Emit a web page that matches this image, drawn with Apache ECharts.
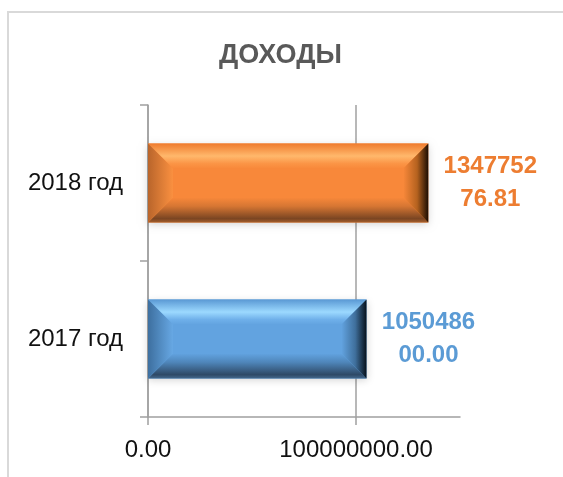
<!DOCTYPE html>
<html>
<head>
<meta charset="utf-8">
<script src="https://cdn.jsdelivr.net/npm/echarts@6/dist/echarts.min.js"></script>
<style>
  html, body { margin: 0; padding: 0; background: #ffffff; overflow: hidden; }
  #frame { position: absolute; left: 7px; top: 11px; width: 700px; height: 700px; border: 2px solid #d9d9d9; box-sizing: border-box; }
  #chart { position: absolute; left: 0; top: 0; width: 563px; height: 477px; }
</style>
</head>
<body>
<div id="frame"></div>
<div id="chart"></div>
<script>
const titleText = 'ДОХОДЫ';
const categories = ['2017 год', '2018 год'];
const values = [105048600.00, 134775276.81];
const tickValues = [0, 100000000];
const axisMax = 150000000;

const palettes = [
  { label: '#5B9BD5', base: '#62A3E0', top: '#5A99D4', hi: '#9CD9FF', mid: '#6FB0EA', bot1: '#4F86BA', bot2: '#2E4966', botEdge: '#44698E', left: '#3D6F9F', leftIn: '#67A8E4', right1: '#3F6F9C', right2: '#06101A' },
  { label: '#ED7D31', base: '#F8883A', top: '#EF7B2D', hi: '#FFB86C', mid: '#FB9546', bot1: '#D67633', bot2: '#7A4522', botEdge: '#A55E2B', left: '#B9652B', leftIn: '#FA9040', right1: '#B5621F', right2: '#1C0D02' }
];

const chart = echarts.init(document.getElementById('chart'), null, { renderer: 'canvas' });

function renderItem(params, api) {
  const i = params.dataIndex;
  const p = palettes[i];
  const start = api.coord([0, api.value(1)]);
  const end = api.coord([api.value(0), api.value(1)]);
  const h = api.size([0, 1])[1] * 0.506;
  const x = start[0];
  const y = start[1] - h / 2;
  const w = end[0] - start[0];
  const b = Math.min(25, w / 2, h / 2);
  const lg = (x2, y2, stops) => ({ type: 'linear', x: 0, y: 0, x2: x2, y2: y2, global: false,
    colorStops: stops.map(s => ({ offset: s[0], color: s[1] })) });
  const txt = values[i].toFixed(2);
  const line1 = txt.slice(0, 7);
  const line2 = txt.slice(7);
  return {
    type: 'group',
    children: [
      { type: 'rect', shape: { x: x, y: y, width: w, height: h },
        style: { fill: p.base, shadowBlur: 8, shadowColor: 'rgba(0,0,0,0.18)', shadowOffsetY: 2 } },
      { type: 'polygon', shape: { points: [[x, y], [x + w, y], [x + w - b, y + b], [x + b, y + b]] },
        style: { fill: lg(0, 1, [[0, p.top], [0.5, p.hi], [0.8, p.mid], [1, p.base]]) } },
      { type: 'polygon', shape: { points: [[x + b, y + h - b], [x + w - b, y + h - b], [x + w, y + h], [x, y + h]] },
        style: { fill: lg(0, 1, [[0, p.base], [0.35, p.bot1], [0.85, p.bot2], [1, p.botEdge]]) } },
      { type: 'polygon', shape: { points: [[x, y], [x + b, y + b], [x + b, y + h - b], [x, y + h]] },
        style: { fill: lg(1, 0, [[0, p.left], [1, p.leftIn]]) } },
      { type: 'polygon', shape: { points: [[x + w, y], [x + w - b, y + b], [x + w - b, y + h - b], [x + w, y + h]] },
        style: { fill: lg(1, 0, [[0, p.base], [0.55, p.right1], [1, p.right2]]) } },
      { type: 'text', x: end[0] + 15, y: start[1],
        style: {
          text: '{a|' + line1 + '}\n{a|' + line2 + '}',
          align: 'left', verticalAlign: 'middle',
          rich: { a: { width: 94, align: 'center', fontSize: 24, fontWeight: 'bold', lineHeight: 33,
            fontFamily: 'Liberation Sans, Arial, sans-serif', fill: p.label } }
        } }
    ]
  };
}

const option = {
  backgroundColor: 'transparent',
  animation: false,
  title: {
    text: titleText,
    left: 214,
    top: 37,
    textStyle: { fontSize: 27, fontWeight: 'bold', color: '#595959', fontFamily: 'Liberation Sans, Arial, sans-serif' }
  },
  grid: { left: 148, right: 103, top: 105, bottom: 60, containLabel: false },
  xAxis: {
    type: 'value',
    min: 0,
    max: axisMax,
    interval: 100000000,
    axisLine: { show: true, lineStyle: { color: '#a0a0a0', width: 1.5 } },
    axisTick: { show: true, length: 8, inside: false, customValues: tickValues, lineStyle: { color: '#a0a0a0', width: 1.5 } },
    axisLabel: {
      customValues: tickValues,
      formatter: v => v.toFixed(2),
      fontSize: 24, color: '#111', margin: 21,
      fontFamily: 'Liberation Sans, Arial, sans-serif'
    },
    splitLine: { show: true, lineStyle: { color: ['#a0a0a0', '#a0a0a0', 'rgba(0,0,0,0)'], width: 1.5 } }
  },
  yAxis: {
    type: 'category',
    data: categories,
    axisLine: { show: true, lineStyle: { color: '#a0a0a0', width: 1.5 } },
    axisTick: { show: true, length: 8, inside: false, lineStyle: { color: '#a0a0a0', width: 1.5 } },
    axisLabel: { fontSize: 24, color: '#111', margin: 25, fontFamily: 'Liberation Sans, Arial, sans-serif' },
    splitLine: { show: false }
  },
  series: [{
    type: 'custom',
    renderItem: renderItem,
    encode: { x: 0, y: 1 },
    data: values.map((v, i) => [v, i])
  }]
};
chart.setOption(option);
</script>
</body>
</html>
